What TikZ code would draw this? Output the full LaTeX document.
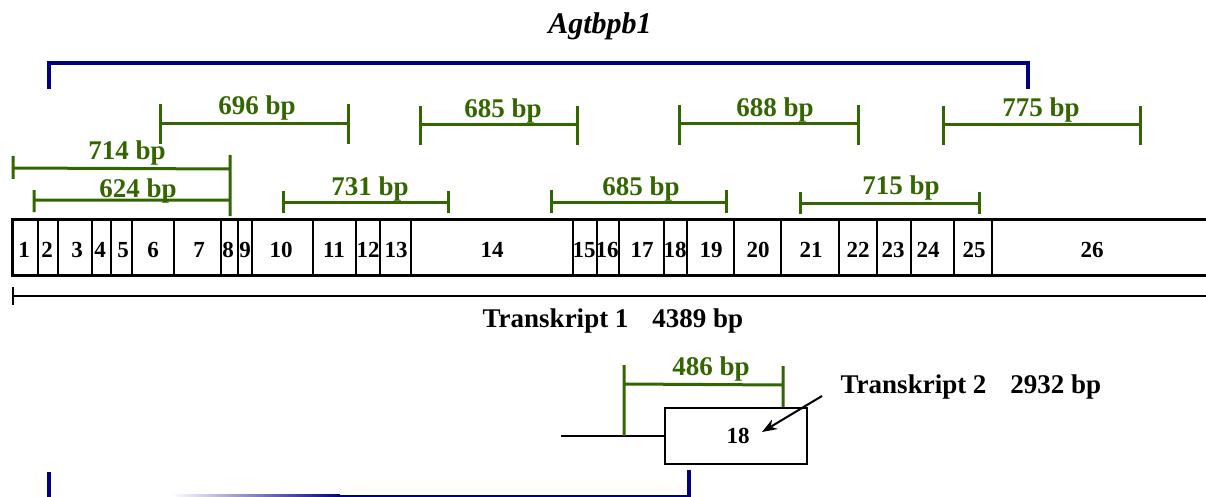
\documentclass[tikz,border=0pt]{standalone}
\usepackage{fontspec}
\setmainfont{Liberation Serif}
\usetikzlibrary{arrows.meta}
\definecolor{gbar}{RGB}{51,102,0}
\definecolor{navyb}{RGB}{0,0,128}
\newcommand\gbr[9]{%
  \coordinate (#1a) at (#2,#5); \coordinate (#1b) at (#2,#6);
  \coordinate (#1c) at (#3,#5); \coordinate (#1d) at (#3,#6);
  \coordinate (#1l) at (#2,#4); \coordinate (#1r) at (#3,#4);
  \draw[gline] (#1a) -- (#1b) (#1c) -- (#1d) (#1l) -- (#1r);
  \node[bp] (#1t) at (#8,#9) {#7};}
\begin{document}
\begin{tikzpicture}[x=1pt,y=-1pt,
  bp/.style={text=gbar,font=\fontsize{27}{31}\selectfont\bfseries,anchor=base,inner sep=0pt},
  ex/.style={font=\fontsize{23}{27}\selectfont\bfseries,anchor=base,inner sep=0pt},
  tx/.style={font=\fontsize{27}{31}\selectfont\bfseries,anchor=base,inner sep=0pt},
  gline/.style={draw=gbar,line width=3pt},
  bline/.style={draw=navyb,line width=4pt},
  kline/.style={draw=black,line width=2.5pt}]
\useasboundingbox (0,0) rectangle (1206,497);
% title
\node[font=\fontsize{30}{34}\selectfont\bfseries\itshape,anchor=base,inner sep=0pt] (title) at (600,34) {Agtbpb1};
% top blue bracket
\coordinate (gA) at (49,89); \coordinate (gB) at (49,63);
\coordinate (gC) at (1028,63); \coordinate (gD) at (1028,89);
\draw[bline] (gA) -- (gB) -- (gC) -- (gD);
% green brackets
\gbr{pa}{160}{348}{124}{104}{144}{696 bp}{257}{115}
\gbr{pb}{420}{577}{125}{106}{145}{685 bp}{503}{118}
\gbr{pc}{679}{858}{124}{105}{145}{688 bp}{775}{117}
\gbr{pd}{943}{1140}{125}{106}{145}{775 bp}{1041}{117}
\gbr{pe}{283}{448}{202}{191}{213}{731 bp}{370}{196}
\gbr{pf}{551}{726}{202}{190}{213}{685 bp}{641}{196}
\gbr{pg}{800}{979}{203}{192}{214}{715 bp}{901}{194}
% 714 and 624
\coordinate (qa) at (13,156); \coordinate (qb) at (13,179);
\coordinate (ql) at (13,168); \coordinate (qr) at (230,169);
\coordinate (qt) at (230,155); \coordinate (qu) at (230,216);
\coordinate (ra) at (34,190); \coordinate (rb) at (34,212);
\coordinate (rl) at (34,200); \coordinate (rr) at (230,200);
\draw[gline] (qa) -- (qb) (ql) -- (qr) (qt) -- (qu) (ra) -- (rb) (rl) -- (rr);
\node[bp] (q714) at (127,160) {714 bp};
\node[bp] (r624) at (138,197) {624 bp};
% exon box
\coordinate (xA) at (1206,219); \coordinate (xB) at (12,219);
\coordinate (xC) at (12,275); \coordinate (xD) at (1206,275);
\draw[line width=3pt] (xA) -- (xB) -- (xC) -- (xD);
\foreach \d in {38,58,92,111,132,174,221,238,252,313,356,380,411,573,597,619,664,687,734,781,839,877,911,954,992}
  \draw[line width=2pt] (\d,219) -- (\d,275);
\foreach \x/\l in {24/1,47/2,77/3,100/4,123/5,153/6,199/7,228/8,245/9,281/10,334/11,368/12,396/13,492/14,584/15,607/16,642/17,675/18,711/19,758/20,811/21,858/22,893/23,928/24,974/25,1092/26}
  \node[ex] (e\l) at (\x,257) {\l};
% transcript 1 line
\coordinate (tA) at (12,296); \coordinate (tB) at (1206,296);
\coordinate (tC) at (13,287); \coordinate (tD) at (13,305);
\draw[line width=2.5pt] (tA) -- (tB) (tC) -- (tD);
\node[tx] (tr1) at (613,327) {Transkript 1\hspace{24pt}4389 bp};
% transcript 2
\node[draw,line width=2.5pt,minimum width=142pt,minimum height=56pt,inner sep=0pt,
  font=\fontsize{23}{27}\selectfont\bfseries] (box18) at (736,436) {\hspace{4pt}18};
\coordinate (lL) at (561,436);
\draw[line width=2.5pt] (lL) -- (box18.west);
\coordinate (sa) at (624,365); \coordinate (sb) at (624,436);
\coordinate (sl) at (624,384); \coordinate (sr) at (783,385);
\coordinate (sc) at (783,366); \coordinate (sd) at (783,407);
\draw[gline] (sa) -- (sb) (sl) -- (sr) (sc) -- (sd);
\node[bp] (s486) at (711,375) {486 bp};
\node[tx] (tr2) at (971,393) {Transkript 2\hspace{24pt}2932 bp};
\coordinate (arS) at (822,396); \coordinate (arE) at (762,432);
\draw[line width=2pt,-{Stealth[length=15pt,width=11pt]}] (arS) -- (arE);
% bottom blue bracket
\coordinate (uA) at (49,472); \coordinate (uB) at (49,497);
\coordinate (uC) at (688.5,470); \coordinate (uD) at (688.5,497);
\draw[bline] (uA) -- (uB) (uC) -- (uD);
\shade[left color=white,right color=navyb] (172,494.5) rectangle (340,497);
\fill[navyb] (340,494.5) rectangle (688.5,497);
\end{tikzpicture}
\end{document}
